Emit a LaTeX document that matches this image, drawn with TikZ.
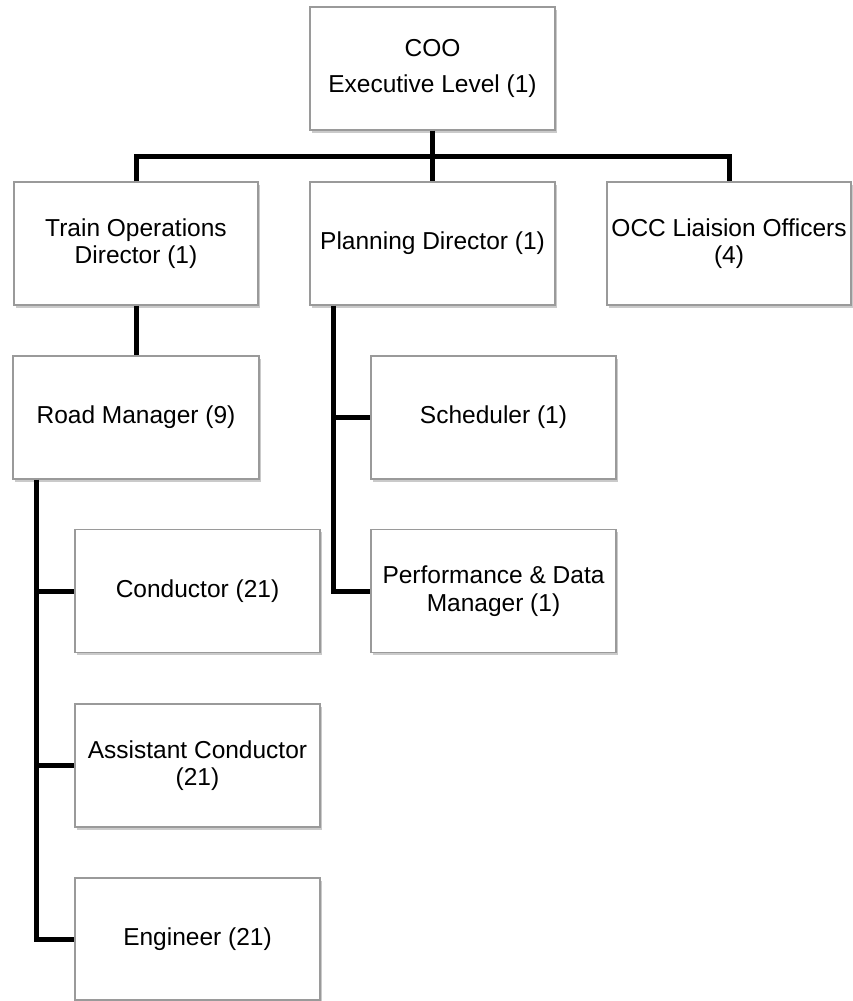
\documentclass[tikz,border=0pt]{standalone}
\usepackage{fontspec}
\setmainfont{Liberation Sans}
\usetikzlibrary{shadows}
\definecolor{boxline}{HTML}{9A9A9A}
\tikzset{
  orgbox/.style={draw=boxline, line width=1.2pt, fill=white,
    minimum width=245pt, minimum height=123pt, inner sep=0pt,
    align=center, font=\fontsize{24.5}{27.5}\selectfont,
    drop shadow={shadow xshift=1.5pt, shadow yshift=-2.5pt, opacity=0.35, fill=black!60}},
  link/.style={line width=5pt, line cap=butt, line join=miter}
}
\begin{document}
\begin{tikzpicture}[x=1pt,y=-1pt]
\useasboundingbox (0,0) rectangle (853,1001);

% executive level
\node[orgbox] (coo) at (432.5,68.5) {COO\\[9pt]Executive Level (1)};

% directors
\node[orgbox, minimum width=244pt] (tod) at (136,243.5) {Train Operations\\Director (1)};
\node[orgbox] (pd) at (432.5,243.5) {Planning Director (1)};
\node[orgbox, minimum width=244pt] (occ) at (729,243.5) {OCC Liaision Officers\\(4)};

% train operations branch
\node[orgbox, minimum width=246pt] (rm) at (136,417.5) {Road Manager (9)};
\node[orgbox] (con) at (197.5,591) {Conductor (21)};
\node[orgbox] (asst) at (197.5,765.5) {Assistant Conductor\\(21)};
\node[orgbox, minimum height=122pt] (eng) at (197.5,939) {Engineer (21)};

% planning branch
\node[orgbox] (sch) at (493.5,417.5) {Scheduler (1)};
\node[orgbox] (perf) at (493.5,591) {Performance \& Data\\Manager (1)};

% top-level connectors
\coordinate (bar) at (432.5,156);
\draw[link] (coo.south) -- (bar);
\draw[link] (tod.north) |- (bar) -| (occ.north);
\draw[link] (bar) -- (pd.north);

% train operations connectors
\draw[link] (tod.south) -- (rm.north);
\coordinate (rmv) at ([xshift=24.5pt]rm.south west);
\draw[link] (rmv) |- (eng.west);
\draw[link] (rmv |- con.west) -- (con.west);
\draw[link] (rmv |- asst.west) -- (asst.west);

% planning connectors
\coordinate (pdv) at ([xshift=24pt]pd.south west);
\draw[link] (pdv) |- (perf.west);
\draw[link] (pdv |- sch.west) -- (sch.west);
\end{tikzpicture}
\end{document}
